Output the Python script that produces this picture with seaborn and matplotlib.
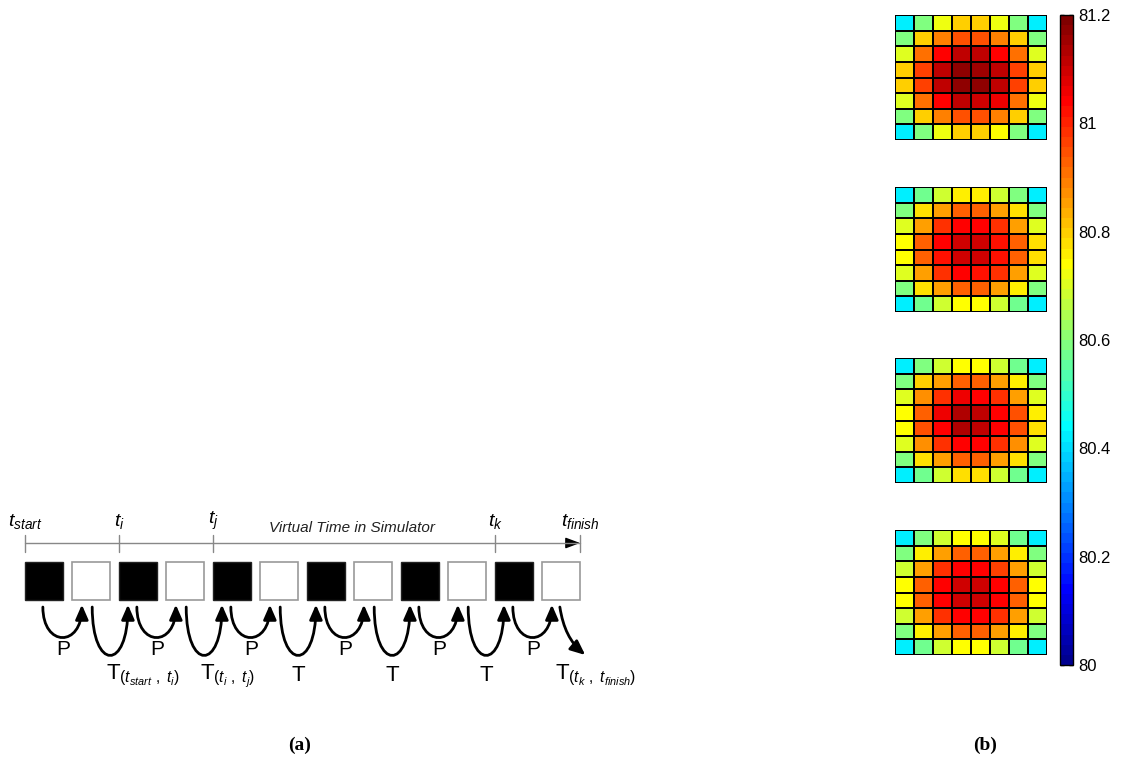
import numpy as np
import matplotlib
matplotlib.use('Agg')
import matplotlib.pyplot as plt
from matplotlib.colors import ListedColormap
from matplotlib.patches import Rectangle, FancyArrowPatch
from matplotlib.path import Path
import seaborn as sns

# ---- data ----
# (a) timeline: black = simulating, white = waiting
block_phase = ['sim', 'idle'] * 6
time_marks = [r'$t_{start}$', r'$t_i$', r'$t_j$', r'$t_k$', r'$t_{finish}$']
time_slots = [0, 2, 4, 10, 11.81]
arc_kind = ['P', 'T'] * 6
t_labels = [r'T$_{(t_{start}\ ,\ t_i)}$', r'T$_{(t_i\ ,\ t_j)}$', 'T', 'T', 'T',
            r'T$_{(t_k\ ,\ t_{finish})}$']

# (b) four 8x8 temperature maps
temp_1 = [
    [80.42, 80.60, 80.72, 80.80, 80.80, 80.73, 80.60, 80.42],
    [80.60, 80.80, 80.89, 80.95, 80.95, 80.89, 80.80, 80.60],
    [80.70, 80.90, 81.04, 81.12, 81.12, 81.05, 80.90, 80.70],
    [80.80, 80.96, 81.12, 81.18, 81.16, 81.12, 80.96, 80.80],
    [80.80, 80.96, 81.12, 81.18, 81.18, 81.12, 80.96, 80.80],
    [80.70, 80.90, 81.04, 81.12, 81.10, 81.06, 80.90, 80.72],
    [80.60, 80.80, 80.89, 80.95, 80.95, 80.89, 80.80, 80.60],
    [80.42, 80.60, 80.72, 80.80, 80.80, 80.74, 80.60, 80.42],
]
temp_2 = [
    [80.42, 80.57, 80.68, 80.76, 80.76, 80.68, 80.60, 80.42],
    [80.60, 80.78, 80.86, 80.92, 80.92, 80.86, 80.77, 80.60],
    [80.70, 80.86, 80.99, 81.04, 81.04, 80.99, 80.86, 80.70],
    [80.75, 80.92, 81.04, 81.10, 81.10, 81.02, 80.93, 80.78],
    [80.75, 80.92, 81.03, 81.10, 81.10, 81.03, 80.93, 80.78],
    [80.70, 80.86, 80.99, 81.04, 81.03, 80.98, 80.86, 80.70],
    [80.60, 80.77, 80.86, 80.92, 80.92, 80.86, 80.76, 80.60],
    [80.42, 80.58, 80.68, 80.75, 80.75, 80.68, 80.58, 80.42],
]
temp_3 = [
    [80.42, 80.60, 80.68, 80.75, 80.75, 80.68, 80.58, 80.42],
    [80.60, 80.79, 80.86, 80.93, 80.93, 80.86, 80.76, 80.60],
    [80.70, 80.87, 80.98, 81.06, 81.05, 80.99, 80.86, 80.70],
    [80.75, 80.93, 81.06, 81.13, 81.12, 81.04, 80.94, 80.76],
    [80.75, 80.94, 81.05, 81.13, 81.12, 81.05, 80.94, 80.77],
    [80.70, 80.87, 80.98, 81.04, 81.04, 80.99, 80.87, 80.70],
    [80.60, 80.78, 80.86, 80.92, 80.92, 80.86, 80.77, 80.60],
    [80.42, 80.58, 80.68, 80.77, 80.77, 80.68, 80.58, 80.42],
]
temp_4 = [
    [80.42, 80.60, 80.68, 80.75, 80.75, 80.70, 80.58, 80.42],
    [80.60, 80.76, 80.86, 80.92, 80.92, 80.86, 80.76, 80.60],
    [80.69, 80.86, 80.98, 81.04, 81.04, 80.97, 80.86, 80.69],
    [80.74, 80.92, 81.05, 81.10, 81.10, 81.05, 80.93, 80.75],
    [80.74, 80.93, 81.05, 81.10, 81.10, 81.05, 80.93, 80.75],
    [80.69, 80.86, 80.98, 81.04, 81.04, 80.98, 80.86, 80.69],
    [80.60, 80.76, 80.85, 80.92, 80.92, 80.86, 80.76, 80.60],
    [80.42, 80.58, 80.68, 80.75, 80.75, 80.68, 80.58, 80.42],
]
cbar_ticks = [80, 80.2, 80.4, 80.6, 80.8, 81, 81.2]
cbar_labels = ['80', '80.2', '80.4', '80.6', '80.8', '81', '81.2']

sns.set_style('white')
plt.rcParams['font.family'] = ['Liberation Sans', 'DejaVu Sans']
plt.rcParams['text.color'] = 'black'
plt.rcParams['ytick.color'] = 'black'
plt.rcParams['mathtext.fontset'] = 'custom'
plt.rcParams['mathtext.rm'] = 'Liberation Sans'
plt.rcParams['mathtext.it'] = 'Liberation Sans:italic'


def matlab_jet(n=64):
    # same construction as MATLAB's jet(n)
    m = int(np.ceil(n / 4))
    u = np.concatenate([np.arange(1, m + 1) / m, np.ones(m - 1), np.arange(m, 0, -1) / m])
    g = int(np.ceil(m / 2)) - (n % 4 == 1) + np.arange(1, len(u) + 1)
    rgb = np.zeros((n, 3))
    for ch, idx in enumerate([g + m, g, g - m]):
        ok = (idx >= 1) & (idx <= n)
        rgb[idx[ok] - 1, ch] = u[ok]
    return ListedColormap(rgb)


W, H = 1122, 765
fig = plt.figure(figsize=(W / 100, H / 100), dpi=100)

# ---- (a) timeline diagram, one unit = one block pitch ----
ax = fig.add_axes([0, 45 / H, 700 / W, 220 / H])
ax.set_xlim(-25 / 47, 675 / 47)
ax.set_ylim(-120 / 47, 100 / 47)
ax.axis('off')

bw = 38 / 47
for i, phase in enumerate(block_phase):
    if phase == 'sim':
        ax.add_patch(Rectangle((i, 0), bw, bw, facecolor='black', edgecolor='#222', lw=1))
    else:
        ax.add_patch(Rectangle((i, 0), bw, bw, facecolor='white', edgecolor='#999', lw=1.2))

# time axis
y_line = 57 / 47
ax.plot([0, time_slots[-1]], [y_line, y_line], color='#888', lw=1)
ax.add_patch(FancyArrowPatch((time_slots[-1] - 0.3, y_line), (time_slots[-1], y_line),
                             arrowstyle='-|>,head_length=0.8,head_width=0.3',
                             mutation_scale=11, color='black', lw=1, shrinkA=0, shrinkB=0))
for x, lab in zip(time_slots, time_marks):
    ax.plot([x, x], [1.02, 1.38], color='#888', lw=1)
    ax.text(x, 1.68, lab, ha='center', va='center', fontsize=14)
ax.text(6.96, 1.53, 'Virtual Time in Simulator', ha='center', va='center',
        fontsize=11, style='italic', color='#222')


def u_arc(x0, x1, y0, y1, ymid):
    c = (8 * ymid - y0 - y1) / 6
    return Path([(x0, y0), (x0, c), (x1, c), (x1, y1)],
                [Path.MOVETO, Path.CURVE4, Path.CURVE4, Path.CURVE4])


t_idx = 0
for i, kind in enumerate(arc_kind):
    style = '-|>,head_length=0.8,head_width=0.35'
    if kind == 'P':
        p = u_arc(i + 0.38, i + 1.21, -0.15, -0.10, -0.79)
        ax.text(i + 0.81, -1.05, 'P', ha='center', va='center', fontsize=15)
    else:
        if i == len(arc_kind) - 1:
            p = Path([(i + 0.38, -0.15), (i + 0.45, -0.6), (i + 0.6, -0.9), (i + 0.92, -1.17)],
                     [Path.MOVETO, Path.CURVE4, Path.CURVE4, Path.CURVE4])
            lx, ha = i + 0.28, 'left'
        else:
            p = u_arc(i + 0.43, i + 1.19, -0.15, -0.10, -1.17)
            lab = t_labels[t_idx]
            lx, ha = (i + 0.81, 'center') if lab == 'T' else (i + 0.72, 'left')
        ax.text(lx, -1.6, t_labels[t_idx], ha=ha, va='center', fontsize=16)
        t_idx += 1
    ax.add_patch(FancyArrowPatch(path=p, arrowstyle=style, mutation_scale=11,
                                 color='black', lw=2, shrinkA=0, shrinkB=0))

# ---- (b) heat maps ----
jet = matlab_jet(64)
cax = fig.add_axes([1060 / W, 100 / H, 13 / W, 650 / H])
tops = [15, 187, 358, 530]
cbar = None
for k, (top, temp) in enumerate(zip(tops, [temp_1, temp_2, temp_3, temp_4])):
    hax = fig.add_axes([895 / W, 1 - (top + 125) / H, 152 / W, 125 / H])
    sns.heatmap(np.array(temp), ax=hax, cmap=jet, vmin=80, vmax=81.2,
                linewidths=1.3, linecolor='black', xticklabels=False, yticklabels=False,
                cbar=(k == 0), cbar_ax=cax if k == 0 else None,
                cbar_kws={'ticks': cbar_ticks})
    if k == 0:
        cbar = hax.collections[0].colorbar

cbar.set_ticklabels(cbar_labels)
cbar.outline.set_edgecolor('black')
cbar.outline.set_linewidth(1)
cax.tick_params(axis='y', direction='in', length=3, width=1, labelsize=12,
                right=True, left=True, pad=4, colors='black')

fig.text(300 / W, 1 - 745 / H, '(a)', ha='center', va='center',
         family='Liberation Serif', weight='bold', fontsize=14)
fig.text(985 / W, 1 - 745 / H, '(b)', ha='center', va='center',
         family='Liberation Serif', weight='bold', fontsize=14)

fig.savefig('out.png', dpi=100)
